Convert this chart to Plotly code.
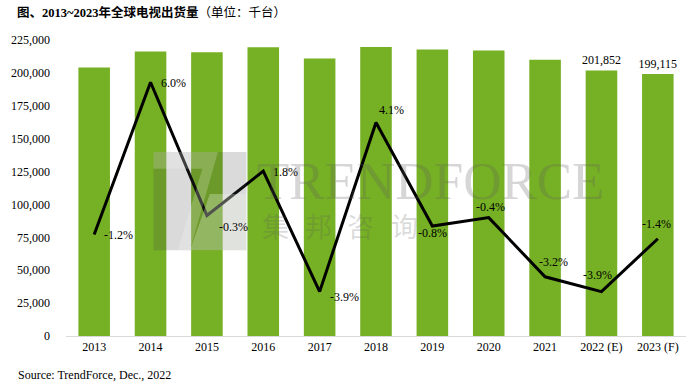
import plotly.graph_objects as go

years = ["2013", "2014", "2015", "2016", "2017", "2018", "2019", "2020", "2021", "2022 (E)", "2023 (F)"]
shipments = [204050, 216293, 215644, 219526, 210965, 219615, 217858, 216987, 210044, 201852, 199115]
growth = [-1.2, 6.0, -0.3, 1.8, -3.9, 4.1, -0.8, -0.4, -3.2, -3.9, -1.4]
bar_labels = ["", "", "", "", "", "", "", "", "", "201,852", "199,115"]
yticks = list(range(0, 225001, 25000))

# label offsets (pixels) for the growth-rate labels
lab_dx = [24, 23, 27, 22, 25, 15, 0, 2, 8, -4, -1]
lab_dy = [0, -1, -12, -1, -5, 12, -7, 11, 15, 17, 15]

SERIF = "Liberation Serif, Times New Roman, serif"
GREEN = "#76B024"

fig = go.Figure()
fig.add_trace(go.Bar(
    x=years, y=shipments, marker=dict(color=GREEN, line=dict(width=0)),
    text=bar_labels, textposition="outside", cliponaxis=False, constraintext="none",
    textfont=dict(family=SERIF, size=12, color="#000"),
    hoverinfo="skip", showlegend=False,
))
fig.add_trace(go.Scatter(
    x=years, y=growth, yaxis="y2", mode="lines",
    line=dict(color="#000", width=3),
    cliponaxis=False, showlegend=False, hoverinfo="skip",
))

annos = []
for i, (g, dx, dy) in enumerate(zip(growth, lab_dx, lab_dy)):
    annos.append(dict(x=i, y=g, xref="x", yref="y2", text=f"{g:.1f}%", showarrow=False,
                      xanchor="center", yanchor="middle", xshift=dx, yshift=dy,
                      font=dict(family=SERIF, size=12, color="#000")))

# watermark text
annos.append(dict(xref="paper", yref="paper", x=0.305, y=0.524, xanchor="left", yanchor="middle",
                  text="TRENDFORCE", showarrow=False,
                  font=dict(family=SERIF, size=53, color="rgba(90,90,90,0.25)")))
for ch, px in zip(["集", "邦", "咨", "询"], [272, 315, 357, 402]):
    annos.append(dict(xref="paper", yref="paper", x=(px - 60) / 626, y=0.372,
                      xanchor="center", yanchor="middle", text=ch, showarrow=False,
                      font=dict(family="Noto Sans CJK SC", size=27, color="rgba(90,90,90,0.22)")))

annos.append(dict(xref="paper", yref="paper", x=-0.083, y=1.0, xanchor="left", yanchor="bottom",
                  yshift=18, text="<b>图、2013~2023年全球电视出货量</b>（单位：千台）", showarrow=False,
                  font=dict(family="Liberation Serif, Noto Sans CJK SC", size=12.5, color="#000")))
annos.append(dict(xref="paper", yref="paper", x=-0.08, y=0, xanchor="left", yanchor="top",
                  yshift=-30, text="Source: TrendForce, Dec., 2022", showarrow=False,
                  font=dict(family=SERIF, size=12, color="#000")))

fig.update_layout(shapes=[
    dict(type="rect", xref="paper", yref="paper", layer="above",
         x0=0.141, x1=0.291, y0=0.29, y1=0.622,
         fillcolor="rgba(70,70,70,0.2)", line=dict(width=0)),
    dict(type="path", xref="paper", yref="paper", layer="above",
         path="M 0.141 0.565 L 0.22 0.565 L 0.18 0.29 L 0.2 0.29 L 0.245 0.622 L 0.141 0.622 Z",
         fillcolor="rgba(255,255,255,0.2)", line=dict(width=0)),
    dict(type="path", xref="paper", yref="paper", layer="above",
         path="M 0.232 0.48 L 0.291 0.48 L 0.291 0.29 L 0.2 0.29 Z",
         fillcolor="rgba(240,248,230,0.3)", line=dict(width=0)),
])

fig.update_layout(
    width=697, height=384,
    margin=dict(l=60, r=11, t=40, b=48),
    paper_bgcolor="white", plot_bgcolor="white",
    bargap=0.44,
    xaxis=dict(type="category", categoryorder="array", categoryarray=years,
               range=[-0.5, len(years) - 0.5],
               showgrid=False, showline=True, linecolor="#d9d9d9", linewidth=1,
               ticks="", tickfont=dict(family=SERIF, size=12, color="#000"), fixedrange=True),
    yaxis=dict(range=[0, 225000], tickvals=yticks, tickformat=",", showgrid=False, zeroline=False,
               showline=False, ticks="", tickfont=dict(family=SERIF, size=12, color="#000"),
               ticklabelstandoff=15),
    yaxis2=dict(range=[-6, 8], overlaying="y", side="right", visible=False),
    annotations=annos,
)

fig.write_html("out.html", config={"displayModeBar": False})
with open("out.html", encoding="utf-8") as f:
    html = f.read()
html = html.replace("<body>", '<body style="margin:0;padding:0;overflow:hidden">', 1)
with open("out.html", "w", encoding="utf-8") as f:
    f.write(html)
